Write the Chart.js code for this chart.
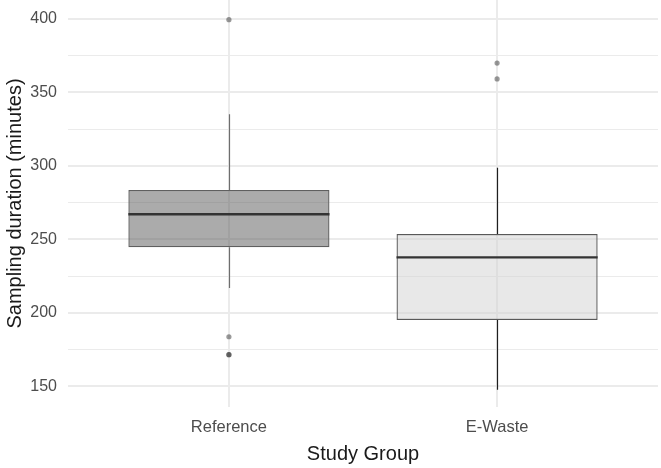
<!DOCTYPE html>
<html>
<head>
<meta charset="utf-8">
<script src="https://cdn.jsdelivr.net/npm/chart.js@4"></script>
<style>
  html, body { margin: 0; padding: 0; background: #ffffff; }
  #wrap { width: 661px; height: 468px; }
</style>
</head>
<body>
<div id="wrap"><canvas id="chart" width="661" height="468"></canvas></div>
<script>
// Sampling duration by study group (five-number summaries + outliers)
const groups = ['Reference', 'E-Waste'];
const groupPos = [1, 2];
const lowerWhisker = [217, 147.8];
const q1 = [244.7, 195.2];
const median = [267.1, 237.8];
const q3 = [283.6, 253.7];
const upperWhisker = [335.2, 298.8];
const outliers = [
  [399.5, 183.8, 171.6, 171.6],
  [370, 359.2]
];
const yTicks = [150, 200, 250, 300, 350, 400];

const boxFill = ['rgba(87,87,87,0.5)', 'rgba(209,209,209,0.5)'];
const boxBorder = ['#5f5f5f', '#595959'];
const whiskerColor = ['#6e6e6e', '#1f1f1f'];
const medianColor = '#333333';
const gridColor = '#ebebeb';
const fontFamily = '"Liberation Sans", Arial, sans-serif';

const outlierPoints = [];
outliers.forEach((vals, i) => vals.forEach(v => outlierPoints.push({ x: groupPos[i], y: v })));

// Whiskers drawn under the boxes, medians on top of them
const boxParts = {
  id: 'boxParts',
  beforeDatasetsDraw(chart) {
    const { ctx, scales: { x, y } } = chart;
    ctx.save();
    ctx.lineWidth = 1.2;
    groupPos.forEach((p, i) => {
      const px = Math.round(x.getPixelForValue(p)) + 0.5;
      ctx.strokeStyle = whiskerColor[i];
      ctx.beginPath();
      ctx.moveTo(px, y.getPixelForValue(q3[i]));
      ctx.lineTo(px, y.getPixelForValue(upperWhisker[i]));
      ctx.moveTo(px, y.getPixelForValue(q1[i]));
      ctx.lineTo(px, y.getPixelForValue(lowerWhisker[i]));
      ctx.stroke();
    });
    ctx.restore();
  },
  afterDatasetsDraw(chart) {
    const { ctx, scales: { y } } = chart;
    const meta = chart.getDatasetMeta(0);
    ctx.save();
    ctx.lineWidth = 2.4;
    ctx.strokeStyle = medianColor;
    meta.data.forEach((bar, i) => {
      const half = bar.width / 2;
      const py = y.getPixelForValue(median[i]);
      ctx.beginPath();
      ctx.moveTo(bar.x - half, py);
      ctx.lineTo(bar.x + half, py);
      ctx.stroke();
    });
    ctx.restore();
  }
};

new Chart(document.getElementById('chart'), {
  type: 'bar',
  data: {
    datasets: [
      {
        type: 'bar',
        data: groupPos.map((p, i) => ({ x: p, y: [q1[i], q3[i]] })),
        backgroundColor: boxFill,
        borderColor: boxBorder,
        borderWidth: 1.3,
        borderSkipped: false,
        categoryPercentage: 1,
        barPercentage: 0.75,
        order: 2
      },
      {
        type: 'scatter',
        data: outlierPoints,
        backgroundColor: 'rgba(30,30,30,0.45)',
        borderWidth: 0,
        pointRadius: 2.6,
        order: 1
      }
    ]
  },
  options: {
    responsive: false,
    animation: false,
    layout: { autoPadding: false, padding: { top: 0, right: 3, bottom: 0, left: 0 } },
    plugins: { legend: { display: false }, tooltip: { enabled: false } },
    scales: {
      x: {
        type: 'linear',
        min: 0.4,
        max: 2.6,
        offset: false,
        afterBuildTicks(scale) { scale.ticks = groupPos.map(v => ({ value: v })); },
        afterFit(scale) {
          scale.height = 61;
          scale.paddingLeft = 0;
          scale.paddingRight = 0;
        },
        border: { display: false },
        grid: { color: gridColor, lineWidth: 2, drawTicks: false, offset: false },
        ticks: {
          padding: 11,
          color: '#4d4d4d',
          font: { family: fontFamily, size: 16.5 },
          callback(v) { const i = groupPos.indexOf(v); return i >= 0 ? groups[i] : ''; }
        },
        title: {
          display: true,
          text: 'Study Group',
          color: '#1a1a1a',
          font: { family: fontFamily, size: 20 },
          padding: { top: 0, bottom: 2 }
        }
      },
      y: {
        min: 136,
        max: 412.9,
        afterFit(scale) {
          scale.width = 68;
          scale.paddingTop = 0;
          scale.paddingBottom = 0;
        },
        border: { display: false },
        grid: {
          color: gridColor,
          drawTicks: false,
          lineWidth(ctx) { return yTicks.includes(ctx.tick.value) ? 2 : 1; }
        },
        ticks: {
          stepSize: 25,
          includeBounds: false,
          padding: 11,
          color: '#4d4d4d',
          font: { family: fontFamily, size: 16 },
          callback(v) { return yTicks.includes(v) ? String(v) : ''; }
        },
        title: {
          display: true,
          text: 'Sampling duration (minutes)',
          color: '#1a1a1a',
          font: { family: fontFamily, size: 20 },
          padding: { top: 3, bottom: 0 }
        }
      }
    }
  },
  plugins: [boxParts]
});
</script>
</body>
</html>
